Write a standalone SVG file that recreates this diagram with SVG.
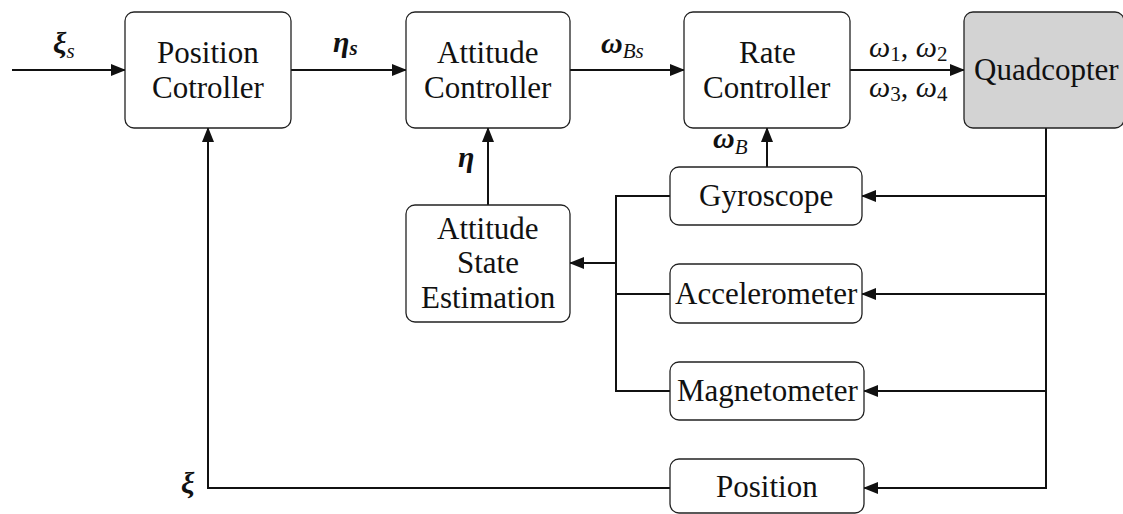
<svg xmlns="http://www.w3.org/2000/svg" width="1123" height="514" viewBox="0 0 1123 514">
  <defs>
    <marker id="arrow" markerUnits="userSpaceOnUse" markerWidth="15" markerHeight="12" viewBox="0 0 15 12" refX="14" refY="6" orient="auto">
      <path d="M0,0 L15,6 L0,12 z" fill="#111"/>
    </marker>
    <style>
      .box { fill: #fff; stroke: #222; stroke-width: 1.3; }
      .plant { fill: #d3d3d3; stroke: #222; stroke-width: 1.3; }
      .caption { font-family: 'Liberation Serif', serif; font-size: 31px; fill: #111; }
      .math { font-family: 'Liberation Serif', serif; font-size: 30px; fill: #111; font-style: italic; }
      .bold { font-weight: bold; }
      .sub { font-size: 21px; }
      .up { font-style: normal; }
      .wire { fill: none; stroke: #111; stroke-width: 2; }
    </style>
  </defs>

  <!-- signal connections -->
  <g id="connectors">
    <line class="wire" x1="12" y1="70" x2="125" y2="70" marker-end="url(#arrow)"/>
    <line class="wire" x1="291" y1="70" x2="406" y2="70" marker-end="url(#arrow)"/>
    <line class="wire" x1="570" y1="70" x2="684" y2="70" marker-end="url(#arrow)"/>
    <line class="wire" x1="850" y1="70" x2="964" y2="70" marker-end="url(#arrow)"/>
    <!-- plant output bus -->
    <line class="wire" x1="1046" y1="128" x2="1046" y2="489"/>
    <line class="wire" x1="1047" y1="196" x2="862" y2="196" marker-end="url(#arrow)"/>
    <line class="wire" x1="1047" y1="294" x2="862" y2="294" marker-end="url(#arrow)"/>
    <line class="wire" x1="1047" y1="391" x2="864" y2="391" marker-end="url(#arrow)"/>
    <line class="wire" x1="1047" y1="488" x2="864" y2="488" marker-end="url(#arrow)"/>
    <!-- sensor collection bus -->
    <polyline class="wire" points="670,196 616,196 616,391 670,391"/>
    <line class="wire" x1="616" y1="294" x2="670" y2="294"/>
    <line class="wire" x1="617" y1="263" x2="570" y2="263" stroke-width="3" marker-end="url(#arrow)"/>
    <!-- feedback paths -->
    <line class="wire" x1="488" y1="205" x2="488" y2="128" marker-end="url(#arrow)"/>
    <line class="wire" x1="767" y1="167" x2="767" y2="128" marker-end="url(#arrow)"/>
    <polyline class="wire" points="670,488 208,488 208,128" marker-end="url(#arrow)"/>

    <!-- signal labels -->
    <text class="math" x="53" y="53"><tspan class="bold">ξ</tspan><tspan class="sub" dy="5">s</tspan></text>
    <text class="math" x="333" y="52"><tspan class="bold">η</tspan><tspan class="sub bold" dy="3">s</tspan></text>
    <text class="math" x="601" y="53"><tspan class="bold">ω</tspan><tspan class="sub" dy="5">Bs</tspan></text>
    <text class="math" x="869" y="57">ω<tspan class="sub up" dy="4">1</tspan><tspan class="up" dy="-4">, </tspan>ω<tspan class="sub up" dy="4">2</tspan></text>
    <text class="math" x="869" y="97">ω<tspan class="sub up" dy="4">3</tspan><tspan class="up" dy="-4">, </tspan>ω<tspan class="sub up" dy="4">4</tspan></text>
    <text class="math bold" x="458" y="167">η</text>
    <text class="math" x="713" y="148"><tspan class="bold">ω</tspan><tspan class="sub" dy="6">B</tspan></text>
    <text class="math bold" x="181" y="493">ξ</text>
  </g>

  <!-- node captions are placed by their left edge, centred by hand on each box -->
  <g id="position-controller">
    <rect class="box" x="125" y="12" width="166" height="116" rx="9"/>
    <text class="caption" font-family="Liberation Serif" x="157" y="63">Position</text>
    <text class="caption" font-family="Liberation Serif" x="152" y="98">Cotroller</text>
  </g>

  <g id="attitude-controller">
    <rect class="box" x="406" y="12" width="164" height="116" rx="9"/>
    <text class="caption" font-family="Liberation Serif" x="437" y="63">Attitude</text>
    <text class="caption" font-family="Liberation Serif" x="424" y="98">Controller</text>
  </g>

  <g id="rate-controller">
    <rect class="box" x="684" y="12" width="166" height="116" rx="9"/>
    <text class="caption" font-family="Liberation Serif" x="739" y="63">Rate</text>
    <text class="caption" font-family="Liberation Serif" x="703" y="98">Controller</text>
  </g>

  <g id="quadcopter">
    <rect class="plant" x="964" y="12" width="160" height="116" rx="9"/>
    <text class="caption" font-family="Liberation Serif" x="974" y="80">Quadcopter</text>
  </g>

  <g id="attitude-state-estimation">
    <rect class="box" x="406" y="205" width="164" height="117" rx="9"/>
    <text class="caption" font-family="Liberation Serif" x="437" y="239">Attitude</text>
    <text class="caption" font-family="Liberation Serif" x="457" y="273">State</text>
    <text class="caption" font-family="Liberation Serif" x="421" y="308">Estimation</text>
  </g>

  <g id="gyroscope">
    <rect class="box" x="670" y="167" width="192" height="58" rx="9"/>
    <text class="caption" font-family="Liberation Serif" x="699" y="206">Gyroscope</text>
  </g>

  <g id="accelerometer">
    <rect class="box" x="670" y="264" width="192" height="59" rx="9"/>
    <text class="caption" font-family="Liberation Serif" x="675" y="304">Accelerometer</text>
  </g>

  <g id="magnetometer">
    <rect class="box" x="670" y="362" width="194" height="58" rx="9"/>
    <text class="caption" font-family="Liberation Serif" x="677" y="401">Magnetometer</text>
  </g>

  <g id="position-sensor">
    <rect class="box" x="670" y="459" width="194" height="54" rx="9"/>
    <text class="caption" font-family="Liberation Serif" x="716" y="497">Position</text>
  </g>
</svg>
